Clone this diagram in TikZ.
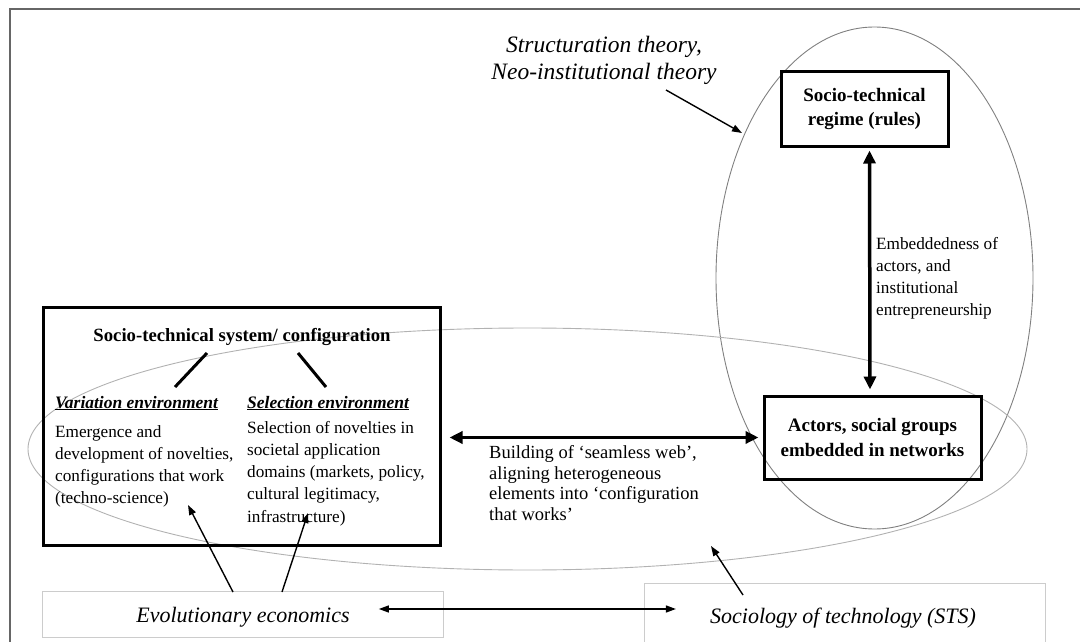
\documentclass[tikz,border=0pt]{standalone}
\usepackage{fontspec}
\setmainfont{Liberation Serif}
\usetikzlibrary{arrows.meta}
\begin{document}
\begin{tikzpicture}[x=1pt,y=-1pt,
  heavybox/.style={draw, line width=3pt, inner sep=0pt, align=center,
    font=\fontsize{19}{24.5}\selectfont\bfseries},
  lightbox/.style={draw=black!20, line width=0.8pt, inner sep=0pt},
  body/.style={inner sep=0pt, align=left},
  theory/.style={inner sep=0pt, font=\fontsize{22}{28}\selectfont\itshape},
  bigarrow/.style={line width=3.5pt,
    {Triangle[length=13pt,width=12pt]}-{Triangle[length=13pt,width=12pt]}},
  thinarrow/.style={line width=1.4pt, -{Triangle[length=10pt,width=7pt]}},
  thinboth/.style={line width=1.4pt,
    {Triangle[length=10pt,width=7pt]}-{Triangle[length=10pt,width=7pt]}},
  stroke/.style={line width=3pt}
]
\useasboundingbox (0,0) rectangle (1080,642);

% outer frame
\draw[black!60, line width=1.5pt] (10,660) -- (10,9) -- (1090,9);

% theory areas
\draw[black!50, line width=0.9pt] (874.5,278) ellipse [x radius=158.5pt, y radius=251pt];
\draw[black!30, line width=0.9pt] (527.5,449) ellipse [x radius=499.5pt, y radius=121pt];

% socio-technical system box and its contents (multi-line nodes sit on their last baseline)
\node[draw, line width=3pt, minimum width=397pt, minimum height=238pt, inner sep=0pt]
  (sysbox) at (241.5,426) {};
\node[body, anchor=base, font=\fontsize{18.7}{24}\selectfont\bfseries]
  (systitle) at (242,341) {Socio-technical system/ configuration};
\node[body, anchor=base west, font=\fontsize{17.5}{22}\selectfont\bfseries\itshape]
  (varhead) at (55,408) {\underline{Variation environment}};
\node[body, anchor=base west, font=\fontsize{17.5}{22}\selectfont\bfseries\itshape]
  (selhead) at (247,408) {\underline{Selection environment}};
\node[body, anchor=base west, font=\fontsize{17.2}{21.7}\selectfont]
  (vartext) at (55,503) {Emergence and\\development of novelties,\\configurations that work\\(techno-science)};
\node[body, anchor=base west, font=\fontsize{17.2}{22.2}\selectfont]
  (seltext) at (247,522) {Selection of novelties in\\societal application\\domains (markets, policy,\\cultural legitimacy,\\infrastructure)};

\coordinate (vl1) at (207,353); \coordinate (vl2) at (175,387);
\coordinate (sl1) at (298,353); \coordinate (sl2) at (326,387);
\draw[stroke] (vl1) -- (vl2);
\draw[stroke] (sl1) -- (sl2);

% regime and actors
\node[heavybox, minimum width=167pt, minimum height=74pt] (regime) at (864.5,109)
  {Socio-technical\\regime (rules)};
\node[heavybox, minimum width=217pt, minimum height=83pt] (actors) at (872.5,437.5)
  {Actors, social groups\\embedded in networks};

\draw[bigarrow, shorten <=3pt, shorten >=5pt] ([xshift=5pt]regime.south) -- ([xshift=-2.5pt]actors.north);
\node[body, anchor=base west, font=\fontsize{17.2}{21.7}\selectfont]
  (embed) at (876,315) {Embeddedness of\\actors, and\\institutional\\entrepreneurship};

\draw[bigarrow, shorten <=8pt, shorten >=4pt] (sysbox.east |- actors.west) -- (actors.west);
\node[body, anchor=base west, font=\fontsize{18.5}{20.4}\selectfont]
  (building) at (489,520) {Building of ‘seamless web’,\\aligning heterogeneous\\elements into ‘configuration\\that works’};

% theoretical traditions
\node[theory, align=center, anchor=base, font=\fontsize{23.5}{28}\selectfont\itshape]
  (struct) at (604,80) {Structuration theory,\\Neo-institutional theory};
\coordinate (structfrom) at (666,90);
\coordinate (structto) at (742,133);
\draw[thinarrow] (structfrom) -- (structto);

\node[lightbox, minimum width=401pt, minimum height=46pt] (evobox) at (242.5,614) {};
\node[lightbox, minimum width=401pt, minimum height=70pt] (stsbox) at (844.5,618) {};
\node[theory, anchor=base] (evo) at (243,622) {Evolutionary economics};
\node[theory, anchor=base] (sts) at (843,623) {Sociology of technology (STS)};

\draw[thinboth, shorten <=29pt, shorten >=34pt] (evo.east |- 0,609) -- (sts.west |- 0,609);

\coordinate (evofrom1) at (233,592); \coordinate (evoto1) at (188,505);
\coordinate (evofrom2) at (282,592); \coordinate (evoto2) at (308,513);
\draw[thinarrow] (evofrom1) -- (evoto1);
\draw[thinarrow] (evofrom2) -- (evoto2);

\coordinate (stsfrom) at (743,595); \coordinate (ststo) at (711,546);
\draw[thinarrow] (stsfrom) -- (ststo);
\end{tikzpicture}
\end{document}
